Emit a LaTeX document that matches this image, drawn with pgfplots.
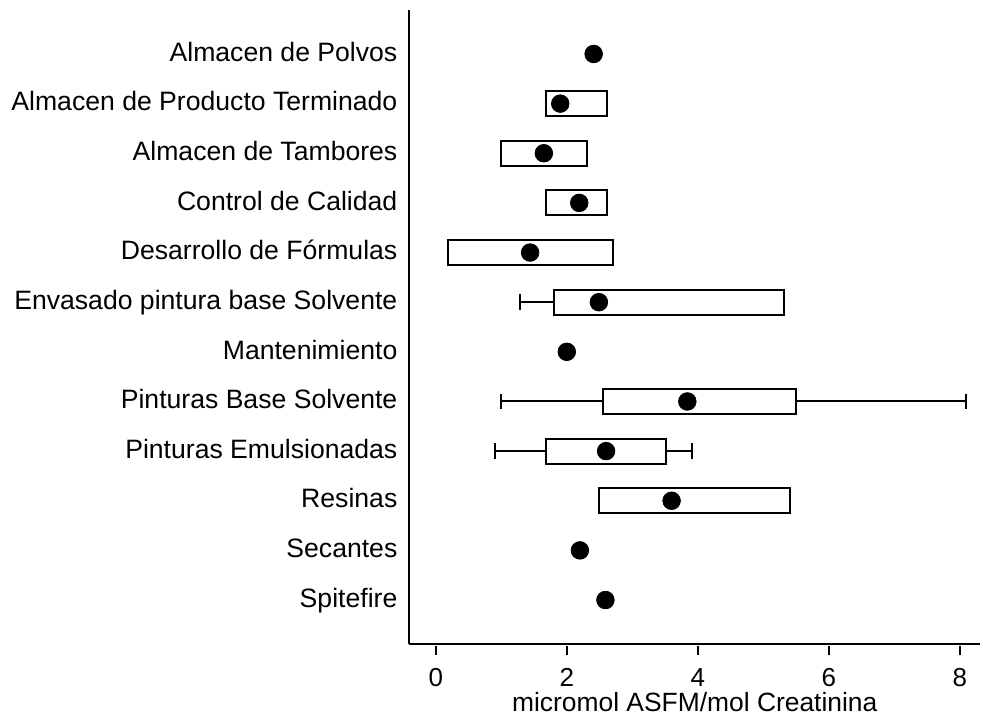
\documentclass[border=0pt]{standalone}
\usepackage{fontspec}
\setmainfont{Liberation Sans}
\usepackage{pgfplots}
\usepackage{pgfplotstable}
\pgfplotsset{compat=1.18}
\usepgfplotslibrary{statistics}

% Central value of each work area (value, row); row 12 is the top row
\pgfplotstableread{
val  row
2.41 12
1.90 11
1.65 10
2.19 9
1.44 8
2.49 7
2.00 6
3.84 5
2.60 4
3.60 3
2.20 2
2.59 1
}\centers

\begin{document}
\begin{tikzpicture}
\begin{axis}[
  at={(0,0)}, anchor=south west,
  scale only axis, width=285.35pt, height=317.15pt,
  xmin=-0.403, xmax=8.31, ymin=0.108, ymax=12.886,
  axis x line*=bottom, axis y line*=left,
  axis line style={-, line width=1pt},
  xtick={0,2,4,6,8},
  ytick={1,...,12},
  yticklabels={Spitefire, Secantes, Resinas, Pinturas Emulsionadas,
    Pinturas Base Solvente, Mantenimiento, Envasado pintura base Solvente,
    Desarrollo de Fórmulas, Control de Calidad, Almacen de Tambores,
    Almacen de Producto Terminado, Almacen de Polvos},
  ytick style={draw=none},
  tick align=outside,
  tick style={black, line width=1pt},
  major tick style={black, line width=1pt},
  xtick style={black, line width=1pt, yshift=-1pt},
  major tick length=4.5pt,
  /pgf/number format/assume math mode=true,
  xticklabel shift=2.5pt,
  xticklabel style={font=\fontsize{13}{15}\selectfont, yshift=-5.5pt,
    text height=0.72em, text depth=0pt, inner sep=1pt},
  yticklabel style={font=\fontsize{13.3}{15}\selectfont, xshift=2pt,
    text height=0.9em, text depth=0.18em},
  xlabel={micromol ASFM/mol Creatinina},
  xlabel style={font=\fontsize{13.2}{15}\selectfont, yshift=-1.5pt, inner sep=0.5pt},
  boxplot/box extend=0.5,
  boxplot/whisker extend=0.32,
  boxplot/draw/median/.code={},
  clip=false,
]
% Boxes (lower whisker, lower quartile, upper quartile, upper whisker)
\addplot[black, line width=1pt, boxplot prepared={draw position=11,
  lower whisker=1.69, lower quartile=1.69, median=1.90,
  upper quartile=2.61, upper whisker=2.61}] coordinates {};
\addplot[black, line width=1pt, boxplot prepared={draw position=10,
  lower whisker=0.99, lower quartile=0.99, median=1.65,
  upper quartile=2.31, upper whisker=2.31}] coordinates {};
\addplot[black, line width=1pt, boxplot prepared={draw position=9,
  lower whisker=1.69, lower quartile=1.69, median=2.19,
  upper quartile=2.61, upper whisker=2.61}] coordinates {};
\addplot[black, line width=1pt, boxplot prepared={draw position=8,
  lower whisker=0.19, lower quartile=0.19, median=1.44,
  upper quartile=2.71, upper whisker=2.71}] coordinates {};
\addplot[black, line width=1pt, boxplot prepared={draw position=7,
  lower whisker=1.29, lower quartile=1.80, median=2.49,
  upper quartile=5.31, upper whisker=5.31}] coordinates {};
\addplot[black, line width=1pt, boxplot prepared={draw position=5,
  lower whisker=0.99, lower quartile=2.55, median=3.84,
  upper quartile=5.50, upper whisker=8.09}] coordinates {};
\addplot[black, line width=1pt, boxplot prepared={draw position=4,
  lower whisker=0.91, lower quartile=1.69, median=2.60,
  upper quartile=3.51, upper whisker=3.91}] coordinates {};
\addplot[black, line width=1pt, boxplot prepared={draw position=3,
  lower whisker=2.49, lower quartile=2.49, median=3.60,
  upper quartile=5.41, upper whisker=5.41}] coordinates {};
% Central values
\addplot[only marks, mark=*, mark size=4.4pt, black] table[x=val, y=row] {\centers};
\end{axis}
\pgfresetboundingbox
\path[use as bounding box] (-204.7pt,-36.3pt) rectangle (286.8pt,322.15pt);
\end{tikzpicture}
\end{document}
